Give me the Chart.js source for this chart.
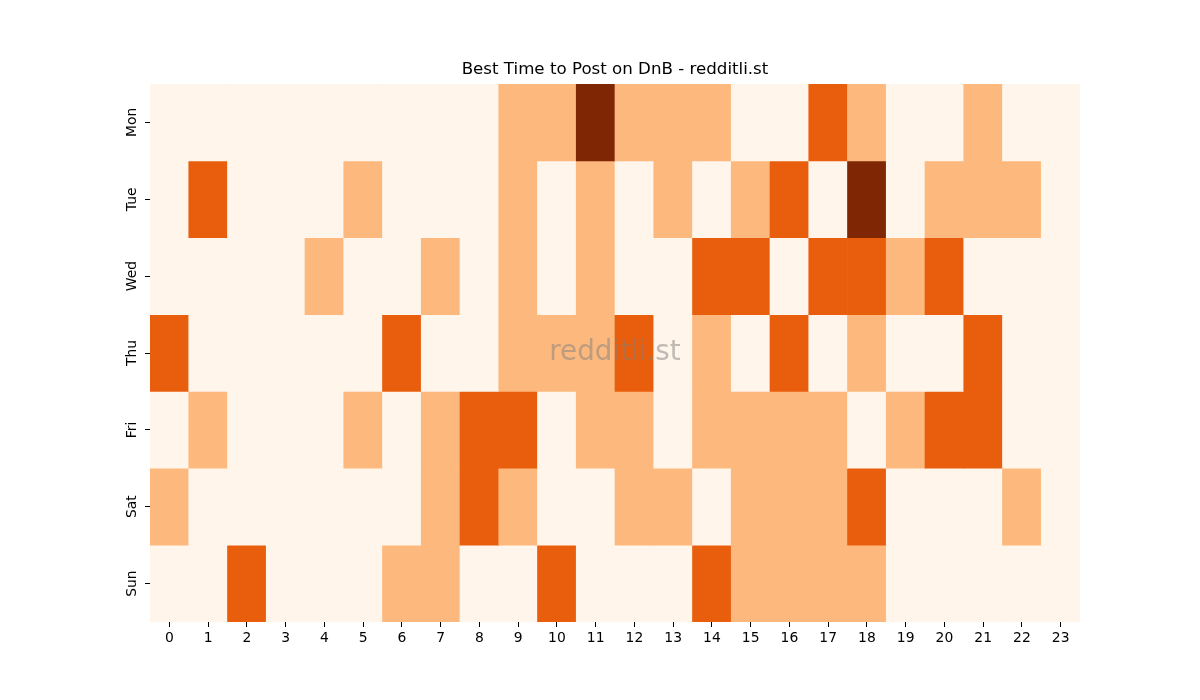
<!DOCTYPE html>
<html>
<head>
<meta charset="utf-8">
<script src="https://cdn.jsdelivr.net/npm/chart.js@4"></script>
<style>
  html, body { margin: 0; padding: 0; background: #fff; }
  #wrap { width: 1200px; height: 700px; }
</style>
</head>
<body>
<div id="wrap"><canvas id="heatmap" width="1200" height="700"></canvas></div>
<script>
// horas (eixo x) e dias (eixo y)
const hours = ['0','1','2','3','4','5','6','7','8','9','10','11','12','13','14','15','16','17','18','19','20','21','22','23'];
const days = ['Mon', 'Tue', 'Wed', 'Thu', 'Fri', 'Sat', 'Sun'];

// nivel de atividade por hora (0..3)
const mon = [0,0,0,0,0,0,0,0,0,1,1,3,1,1,1,0,0,2,1,0,0,1,0,0];
const tue = [0,2,0,0,0,1,0,0,0,1,0,1,0,1,0,1,2,0,3,0,1,1,1,0];
const wed = [0,0,0,0,1,0,0,1,0,1,0,1,0,0,2,2,0,2,2,1,2,0,0,0];
const thu = [2,0,0,0,0,0,2,0,0,1,1,1,2,0,1,0,2,0,1,0,0,2,0,0];
const fri = [0,1,0,0,0,1,0,1,2,2,0,1,1,0,1,1,1,1,0,1,2,2,0,0];
const sat = [1,0,0,0,0,0,0,1,2,1,0,0,1,1,0,1,1,1,2,0,0,0,1,0];
const sun = [0,0,2,0,0,0,1,1,0,0,2,0,0,0,2,1,1,1,1,0,0,0,0,0];
const rows = [mon, tue, wed, thu, fri, sat, sun];

// paleta "Oranges"
const levelColors = ['#fff5eb', '#fdb97d', '#e95e0d', '#7f2704'];

// marca d'agua no centro
const watermark = {
  id: 'watermark',
  afterDatasetsDraw(chart) {
    const { ctx, chartArea } = chart;
    ctx.save();
    ctx.font = '27.8px "DejaVu Sans"';
    ctx.fillStyle = 'rgba(128,128,128,0.5)';
    ctx.textAlign = 'center';
    ctx.textBaseline = 'middle';
    ctx.fillText('redditli.st', (chartArea.left + chartArea.right) / 2, (chartArea.top + chartArea.bottom) / 2);
    ctx.restore();
  }
};

const datasets = rows.map((row, i) => ({
  label: days[i],
  data: row.map(() => 1),
  backgroundColor: row.map(v => levelColors[v]),
  borderWidth: 0,
  barPercentage: 1,
  categoryPercentage: 1,
  stack: 'dias'
}));

const ctx = document.getElementById('heatmap').getContext('2d');
new Chart(ctx, {
  type: 'bar',
  data: { labels: hours, datasets: datasets },
  options: {
    responsive: false,
    animation: false,
    layout: { padding: { left: 110, right: 120, top: 60, bottom: 0 } },
    scales: {
      x: {
        stacked: true,
        grid: { display: true, offset: false, drawOnChartArea: false, drawTicks: true, tickLength: 5, color: '#000' },
        border: { display: false },
        ticks: { color: '#000', font: { family: 'DejaVu Sans', size: 13.9 }, padding: 3, maxRotation: 0, minRotation: 0 },
        afterFit: scale => { scale.height = 78; }
      },
      y: {
        stacked: true,
        reverse: true,
        min: 0,
        max: 7,
        grid: { display: true, drawOnChartArea: false, drawTicks: true, tickLength: 5, color: '#000' },
        border: { display: false },
        afterBuildTicks: scale => { scale.ticks = days.map((d, i) => ({ value: i + 0.5 })); },
        ticks: {
          color: '#000',
          font: { family: 'DejaVu Sans', size: 13.9 },
          padding: -3,
          crossAlign: 'center',
          minRotation: 90,
          maxRotation: 90,
          callback: value => days[Math.floor(value)]
        },
        afterFit: scale => { scale.width = 40; }
      }
    },
    plugins: {
      legend: { display: false },
      tooltip: { enabled: false },
      title: {
        display: true,
        fullSize: false,
        text: 'Best Time to Post on DnB - redditli.st',
        color: '#000',
        font: { family: 'DejaVu Sans', size: 16.67, weight: 'normal' },
        padding: { top: 0, bottom: 4 }
      }
    }
  },
  plugins: [watermark]
});
</script>
</body>
</html>
